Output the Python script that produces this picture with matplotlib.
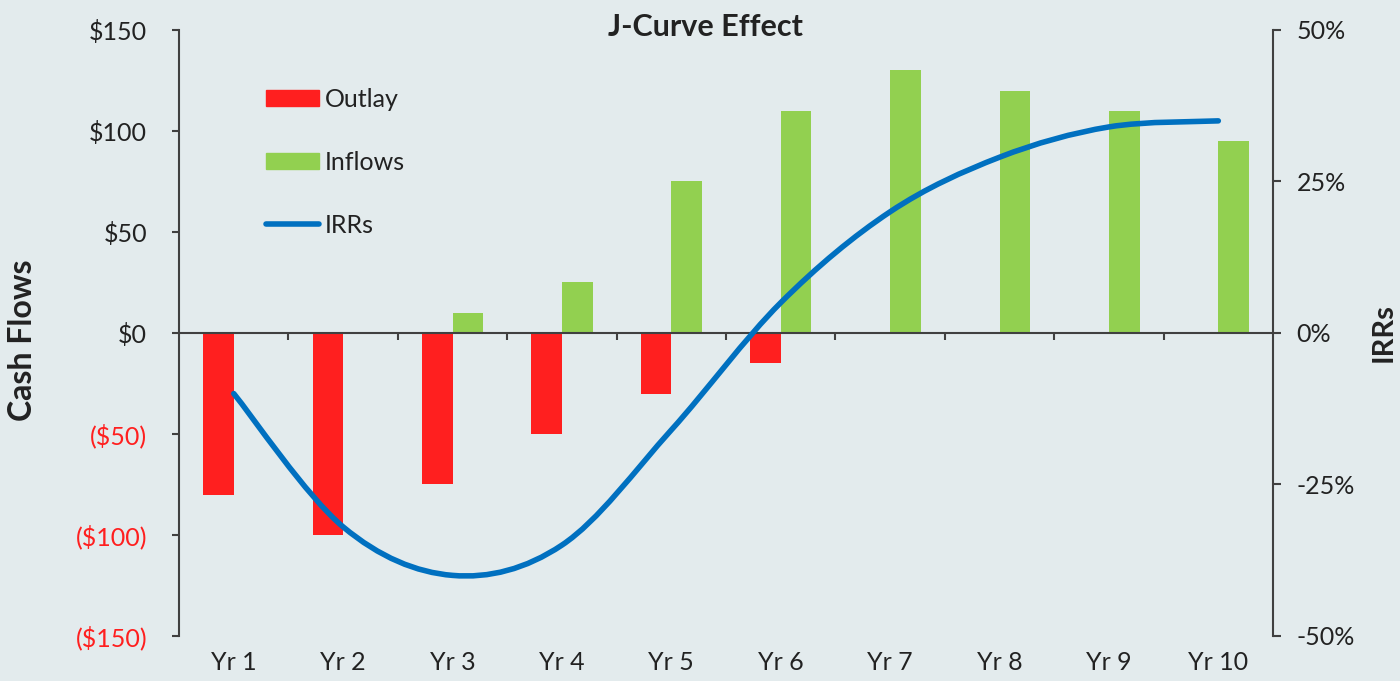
import matplotlib
matplotlib.use('Agg')
import matplotlib.pyplot as plt
import numpy as np
from matplotlib.path import Path
from matplotlib.patches import PathPatch, Patch
from matplotlib.lines import Line2D

# chart values
years = ['Yr 1', 'Yr 2', 'Yr 3', 'Yr 4', 'Yr 5', 'Yr 6', 'Yr 7', 'Yr 8', 'Yr 9', 'Yr 10']
outlay = [-80, -100, -75, -50, -30, -15, 0, 0, 0, 0]
inflows = [0, 0, 10, 25, 75, 110, 130, 120, 110, 95]
irrs = [-10, -32, -40, -35, -16, 5, 20, 29, 34, 35]

cash_ticks = [-150, -100, -50, 0, 50, 100, 150]
irr_ticks = [-50, -25, 0, 25, 50]

bg = '#e3ebed'
red = '#ff1f1f'
green = '#92d050'
blue = '#0070c0'
spine_c = '#404040'
text_c = '#222222'


def smooth_path(xs, ys):
    # excel-style smoothed line: cubic bezier segments through every point
    pts = np.column_stack([xs, ys]).astype(float)
    n = len(pts)
    verts = [pts[0]]
    codes = [Path.MOVETO]
    for i in range(n - 1):
        p0 = pts[i - 1] if i > 0 else pts[i]
        p1 = pts[i]
        p2 = pts[i + 1]
        p3 = pts[i + 2] if i + 2 < n else pts[i + 1]
        c1 = p1 + (p2 - p0) / 6.0
        c2 = p2 - (p3 - p1) / 6.0
        verts += [c1, c2, p2]
        codes += [Path.CURVE4] * 3
    return Path(verts, codes)


def main():
    plt.rcParams['font.family'] = ['Lato', 'DejaVu Sans']
    plt.rcParams['font.size'] = 18
    plt.rcParams['text.color'] = text_c

    fig = plt.figure(figsize=(14, 6.81), dpi=100, facecolor=bg)
    ax = fig.add_axes([0.1279, 0.0661, 0.7814, 0.8899], facecolor=bg)
    x = np.arange(len(years))

    # bars sit either side of the category centre
    ax.bar(x, outlay, width=-0.28, align='edge', color=red, zorder=1)
    ax.bar(x, inflows, width=0.28, align='edge', color=green, zorder=1)

    ax.set_xlim(-0.5, len(years) - 0.5)
    ax.set_ylim(-150, 150)
    ax.set_yticks(cash_ticks)
    ax.set_yticklabels([f'${v}' if v >= 0 else f'(${-v})' for v in cash_ticks])
    for lab, v in zip(ax.get_yticklabels(), cash_ticks):
        lab.set_color(red if v < 0 else text_c)

    # x axis line at zero with ticks on the category boundaries
    ax.spines['bottom'].set_position(('data', 0))
    ax.spines['top'].set_visible(False)
    ax.spines['right'].set_visible(False)
    for s in ['left', 'bottom']:
        ax.spines[s].set_color(spine_c)
        ax.spines[s].set_linewidth(1.5)
    ax.set_xticks(np.arange(0.5, len(years) - 1, 1.0))
    ax.set_xticklabels([])
    ax.tick_params(axis='x', length=5, width=1.5, color=spine_c, direction='out')
    ax.tick_params(axis='y', length=5, width=1.5, color=spine_c, pad=18, labelsize=18)

    # year labels along the bottom of the plot area
    sec = ax.secondary_xaxis('bottom')
    sec.set_xticks(x)
    sec.set_xticklabels(years)
    sec.tick_params(length=0, pad=11, labelsize=18, labelcolor=text_c)
    sec.spines['bottom'].set_visible(False)

    # IRR line on the right axis
    ax2 = ax.twinx()
    ax2.set_ylim(-50, 50)
    ax2.set_yticks(irr_ticks)
    ax2.set_yticklabels([f'{v}%' for v in irr_ticks])
    ax2.tick_params(axis='y', length=6, width=1.5, color=spine_c, pad=11,
                    labelsize=18, labelcolor=text_c)
    for s in ['top', 'left', 'bottom']:
        ax2.spines[s].set_visible(False)
    ax2.spines['right'].set_color(spine_c)
    ax2.spines['right'].set_linewidth(1.5)
    ax2.add_patch(PathPatch(smooth_path(x, irrs), fill=False, edgecolor=blue,
                            linewidth=4, capstyle='round', zorder=3))

    handles = [Patch(color=red), Patch(color=green),
               Line2D([], [], color=blue, linewidth=4, solid_capstyle='round')]
    ax2.legend(handles, ['Outlay', 'Inflows', 'IRRs'], loc='upper left',
               bbox_to_anchor=(0.0795, 0.905), frameon=False, borderpad=0,
               borderaxespad=0, handlelength=2.1, handleheight=0.6,
               handletextpad=0.25, labelspacing=1.6, fontsize=18)

    # axis titles and chart title
    fig.text(23 / 1400, 1 - 340 / 681, 'Cash Flows', rotation=90, ha='center',
             va='center', fontweight='bold', fontsize=23)
    fig.text(1384 / 1400, 1 - 333 / 681, 'IRRs', rotation=90, ha='center',
             va='center', fontweight='bold', fontsize=21)
    fig.text(705 / 1400, 1 - 27 / 681, 'J-Curve Effect', ha='center', va='center',
             fontweight='bold', fontsize=22)

    fig.savefig('out.png', dpi=100, facecolor=bg)


if __name__ == '__main__':
    main()
